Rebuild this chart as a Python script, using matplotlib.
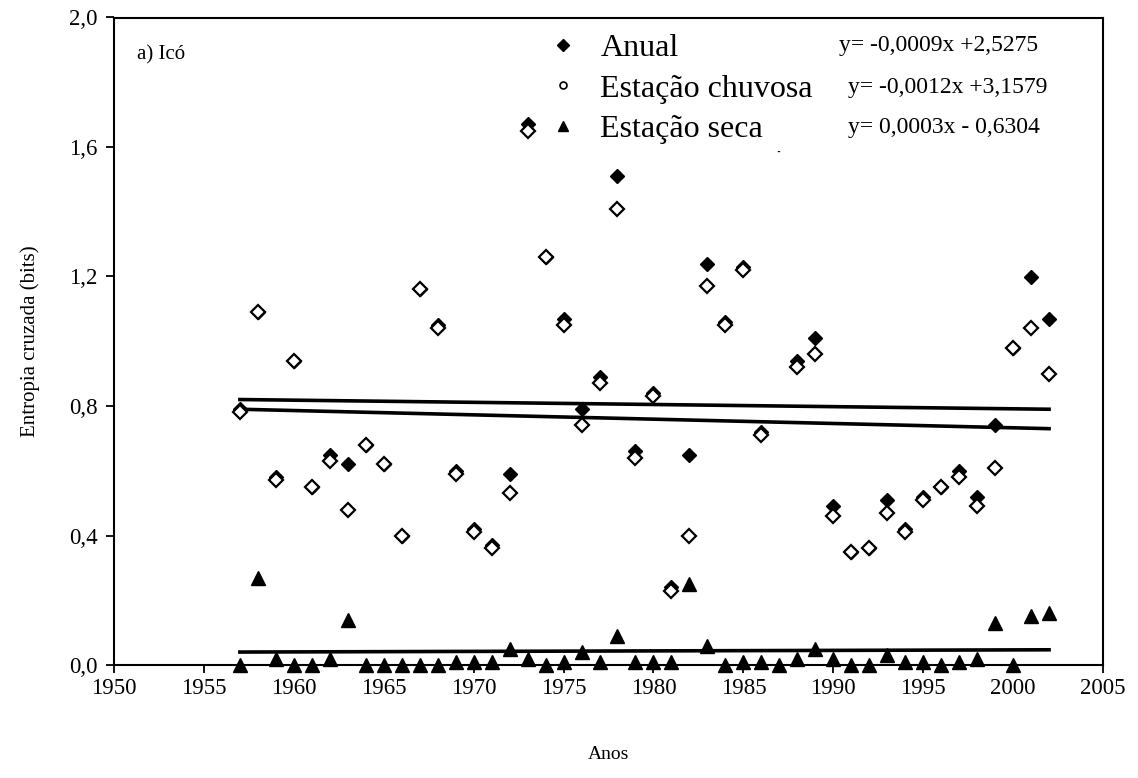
import matplotlib
matplotlib.use("Agg")
import matplotlib.pyplot as plt
from matplotlib.lines import Line2D
from matplotlib.ticker import FuncFormatter, MultipleLocator

plt.rcParams["font.family"] = ["Liberation Serif", "DejaVu Serif"]

anos = list(range(1957, 2003))
anual = [0.79, 1.09, 0.58, 0.94, 0.55, 0.65, 0.62, 0.68, 0.62, 0.40,
         1.16, 1.05, 0.60, 0.42, 0.37, 0.59, 1.67, 1.26, 1.07, 0.79,
         0.89, 1.51, 0.66, 0.84, 0.24, 0.65, 1.24, 1.06, 1.23, 0.72,
         1.63, 0.94, 1.01, 0.49, 0.35, 0.36, 0.51, 0.42, 0.52, 0.55,
         0.60, 0.52, 0.74, 0.98, 1.20, 1.07]
chuvosa = [0.78, 1.09, 0.57, 0.94, 0.55, 0.63, 0.48, 0.68, 0.62, 0.40,
           1.16, 1.04, 0.59, 0.41, 0.36, 0.53, 1.65, 1.26, 1.05, 0.74,
           0.87, 1.41, 0.64, 0.83, 0.23, 0.40, 1.17, 1.05, 1.22, 0.71,
           1.61, 0.92, 0.96, 0.46, 0.35, 0.36, 0.47, 0.41, 0.51, 0.55,
           0.58, 0.49, 0.61, 0.98, 1.04, 0.90]
seca = [0.00, 0.27, 0.02, 0.00, 0.00, 0.02, 0.14, 0.00, 0.00, 0.00,
        0.00, 0.00, 0.01, 0.01, 0.01, 0.05, 0.02, 0.00, 0.01, 0.04,
        0.01, 0.09, 0.01, 0.01, 0.01, 0.25, 0.06, 0.00, 0.01, 0.01,
        0.00, 0.02, 0.05, 0.02, 0.00, 0.00, 0.03, 0.01, 0.01, 0.00,
        0.01, 0.02, 0.13, 0.00, 0.15, 0.16]

# trend lines (end points)
trend_x = [1957, 2002]
trend_anual = [0.82, 0.79]
trend_chuvosa = [0.79, 0.73]
trend_seca = [0.040, 0.047]

labels = ["Anual", "Estação chuvosa", "Estação seca"]
equations = ["y= -0,0009x +2,5275", "y= -0,0012x +3,1579", "y= 0,0003x - 0,6304"]

fig = plt.figure(figsize=(11.38, 7.78), dpi=100)
ax = fig.add_axes([114 / 1138, 113 / 778, 989 / 1138, 647.5 / 778])

ax.plot(trend_x, trend_anual, color="black", lw=2.6, zorder=2)
ax.plot(trend_x, trend_chuvosa, color="black", lw=2.6, zorder=2)
ax.plot(trend_x, trend_seca, color="black", lw=2.6, zorder=2)

ax.plot(anos, anual, "D", color="black", ms=7, ls="none", zorder=3, clip_on=False)
ax.plot(anos, chuvosa, "D", mfc="white", mec="black", mew=1.6, ms=7, ls="none",
        zorder=4, clip_on=False)
ax.plot(anos, seca, "^", color="black", ms=10, ls="none", zorder=5, clip_on=False)

ax.set_xlim(1950, 2005)
ax.set_ylim(0, 2.0)
ax.xaxis.set_major_locator(MultipleLocator(5))
ax.yaxis.set_major_locator(MultipleLocator(0.4))
ax.yaxis.set_major_formatter(FuncFormatter(lambda v, p: f"{v:.1f}".replace(".", ",")))
ax.tick_params(direction="out", length=6, width=1.3, labelsize=16.5)
ax.tick_params(axis="x", pad=3)
ax.tick_params(axis="y", pad=6)
for s in ax.spines.values():
    s.set_linewidth(1.5)

ax.set_xlabel("Anos", fontsize=14, labelpad=34)
ax.set_ylabel("Entropia cruzada (bits)", fontsize=15, labelpad=21)

ax.text(1951.3, 1.885, "a) Icó", fontsize=15, va="center", ha="left")

handles = [
    Line2D([], [], marker="D", color="black", ls="none", ms=6),
    Line2D([], [], marker="o", mfc="white", mec="black", mew=1.2, ls="none", ms=5),
    Line2D([], [], marker="^", color="black", ls="none", ms=7),
]
leg = ax.legend(handles, labels, loc="upper left", bbox_to_anchor=(541 / 1138, 1 - 27 / 778),
                bbox_transform=fig.transFigure, fontsize=23, frameon=True,
                facecolor="white", edgecolor="none", framealpha=1, fancybox=False,
                borderpad=0.2, borderaxespad=0, handlelength=1.0, handletextpad=0.66,
                labelspacing=0.36)
leg.set_zorder(6)

eq_pos = [(1990.3, 1.915), (1990.8, 1.785), (1990.8, 1.66)]
for (ex, ey), eq in zip(eq_pos, equations):
    ax.text(ex, ey, eq, fontsize=17, va="center", ha="left", zorder=7)

fig.savefig("out.png", dpi=100)
